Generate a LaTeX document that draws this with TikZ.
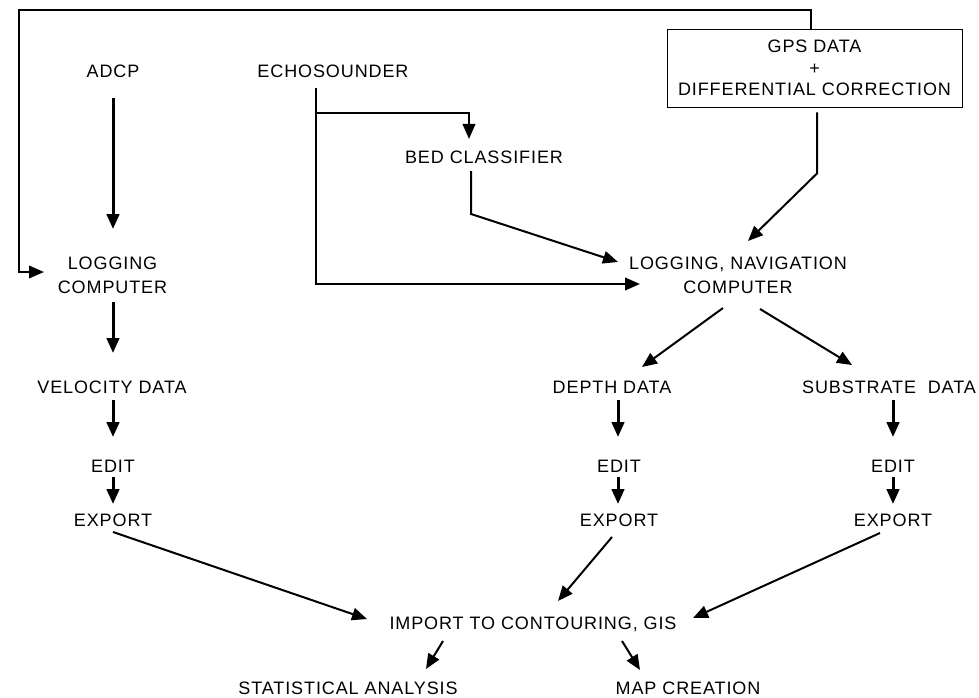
\documentclass[tikz,border=0pt]{standalone}
\usepackage{fontspec}
\setmainfont[LetterSpace=5]{Liberation Sans}
\usetikzlibrary{arrows.meta,calc}
\begin{document}
\begin{tikzpicture}[x=1pt,y=-1pt,
  lbl/.style={font=\fontsize{18}{24}\selectfont, inner sep=0pt, align=center},
  gpsbox/.style={lbl, draw, line width=0.9pt, minimum width=295pt, minimum height=78pt},
  arr/.style={-{Triangle[length=15pt,width=12.5pt]}, line width=3pt},
  darr/.style={-{Triangle[length=15pt,width=12.5pt]}, line width=2pt},
  larr/.style={-{Triangle[length=15pt,width=12.5pt]}, line width=2.4pt, line join=miter},
  farr/.style={-{Triangle[length=15pt,width=12.5pt]}, line width=2pt, line join=miter}]
\useasboundingbox (0,0) rectangle (979,698);

% nodes
\node[lbl] (adcp) at (113,71.5) {ADCP};
\node[lbl] (echo) at (333,71.5) {ECHOSOUNDER};
\node[gpsbox] (gps) at (814.5,68) {GPS DATA\\[-2.5pt]+\\[-2.5pt]DIFFERENTIAL CORRECTION};
\node[lbl] (bed) at (484,157) {BED CLASSIFIER};
\node[lbl] (logc) at (112.5,275) {LOGGING\\COMPUTER};
\node[lbl] (lognav) at (738,275) {LOGGING, NAVIGATION\\COMPUTER};
\node[lbl] (vel) at (112,387) {VELOCITY DATA};
\node[lbl] (edita) at (113,466) {EDIT};
\node[lbl] (expa) at (113,520) {EXPORT};
\node[lbl] (depth) at (612,387) {DEPTH DATA};
\node[lbl] (editb) at (619,466) {EDIT};
\node[lbl] (expb) at (619,520) {EXPORT};
\node[lbl] (sub) at (889,387) {SUBSTRATE\ \ DATA};
\node[lbl] (editc) at (893,466) {EDIT};
\node[lbl] (expc) at (893,520) {EXPORT};
\node[lbl] (imp) at (533,624) {IMPORT TO CONTOURING, GIS};
\node[lbl] (stat) at (348,688.5) {STATISTICAL ANALYSIS};
\node[lbl] (map) at (688,688.5) {MAP CREATION};

% feedback loop from GPS to logging computer
\draw[farr] ($(gps.north)+(-3.5,0)$) -- ++(0,-19) -| ($(logc.center)+(-93.5,-3)$) -- ($(logc.center)+(-68.5,-3)$);

% ADCP -> logging computer
\draw[arr] ($(adcp.center)+(0,26.5)$) -- ($(logc.center)+(0.5,-46)$);

% echosounder lines
\draw[larr] ($(echo.center)+(-17,16.5)$) -- ($(echo.center)+(-17,212.5)$) -- ($(lognav.center)+(-98,9)$);
\draw[larr] ($(echo.center)+(-17,41.5)$) -| ($(bed.center)+(-15,-18)$);

% bed classifier -> logging/navigation
\draw[darr] ($(bed.center)+(-13,14)$) -- ++(0,43) -- ($(lognav.center)+(-120,-13)$);

% GPS -> logging/navigation
\draw[darr] ($(gps.south)+(2.5,5)$) -- ++(0,61) -- ($(lognav.center)+(10,-34)$);

% left column
\draw[arr] ($(logc.center)+(0.5,27)$) -- ($(vel.center)+(1,-34)$);
\draw[arr] ($(vel.center)+(1,13)$) -- ($(edita.center)+(0,-29)$);
\draw[arr] ($(edita.center)+(0,11)$) -- ($(expa.center)+(0,-16)$);
\draw[darr] ($(expa.center)+(0,12)$) -- ($(imp.center)+(-166,-5)$);

% middle column
\draw[darr] ($(lognav.center)+(-15,33)$) -- ($(depth.center)+(30,-20)$);
\draw[arr] ($(depth.center)+(6,13)$) -- ($(editb.center)+(-1,-29)$);
\draw[arr] ($(editb.center)+(-1,11)$) -- ($(expb.center)+(-1,-16)$);
\draw[darr] ($(expb.center)+(-7,17)$) -- ($(imp.center)+(25,-23)$);

% right column
\draw[darr] ($(lognav.center)+(22,34)$) -- ($(sub.center)+(-37,-22)$);
\draw[arr] ($(sub.center)+(4,13)$) -- ($(editc.center)+(0,-29)$);
\draw[arr] ($(editc.center)+(0,11)$) -- ($(expc.center)+(0,-16)$);
\draw[darr] ($(expc.center)+(-13,13)$) -- ($(imp.center)+(160,-6)$);

% outputs
\draw[darr] ($(imp.center)+(-90,17)$) -- ($(stat.center)+(78,-19.5)$);
\draw[darr] ($(imp.center)+(89,17)$) -- ($(map.center)+(-48,-18.5)$);
\end{tikzpicture}
\end{document}
